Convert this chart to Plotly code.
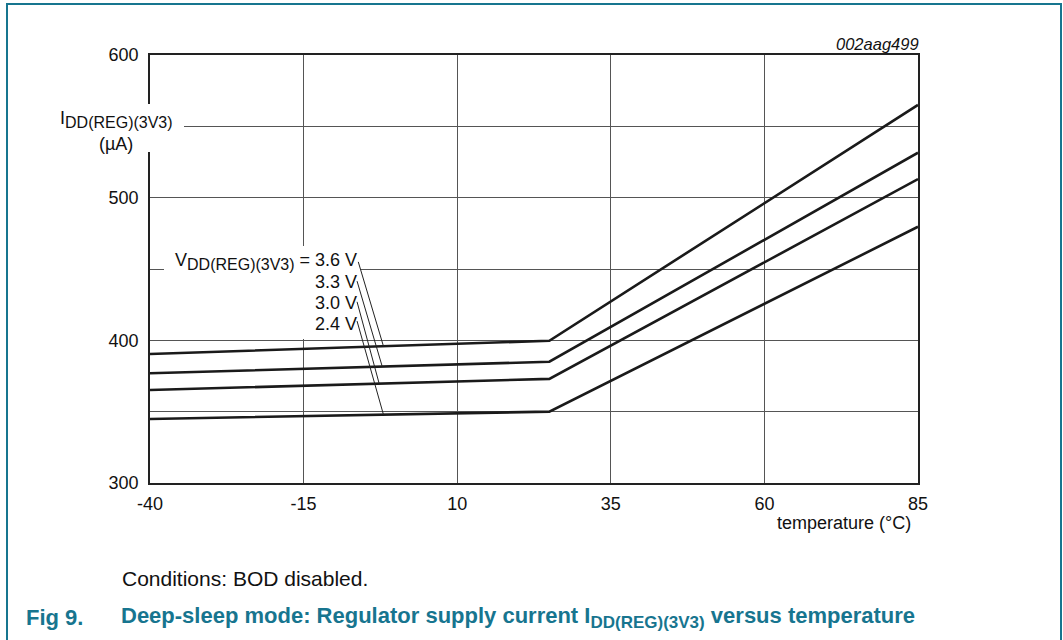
import numpy as np
import plotly.graph_objects as go

# temperature (°C) at start, knee, end of each curve
temps = [-40, 25, 85]
i_36 = [390.4, 399.7, 565]
i_33 = [376.9, 385, 531.5]
i_30 = [365.2, 373, 513]
i_24 = [344.9, 350, 479.6]
curves = [("3.6 V", i_36), ("3.3 V", i_33), ("3.0 V", i_30), ("2.4 V", i_24)]

x_ticks = [-40, -15, 10, 35, 60, 85]
x_labels = ["-40", "-15", "10", "35", "60", "85"]
y_grid = [300, 350, 400, 450, 500, 550, 600]
y_labels = ["300", "", "400", "", "500", "", "600"]

W, H = 1063, 640
L, R, T, B = 150, 918, 55, 483
FONT = "Liberation Sans, Arial, sans-serif"
TEAL = "#17758f"


def px(x):
    return (x - L) / (R - L)


def py(y):
    return (B - y) / (B - T)


def sub(s, size):
    return f'<sub><span style="font-size:{size}px">{s}</span></sub>'


fig = go.Figure()
for name, vals in curves:
    fig.add_trace(go.Scatter(x=temps, y=vals, mode="lines", name=name,
                             line=dict(color="#1a1a1a", width=2.6),
                             showlegend=False, hoverinfo="skip"))

fig.update_layout(
    width=W, height=H,
    margin=dict(l=L, r=W - R, t=T, b=H - B),
    paper_bgcolor="white", plot_bgcolor="white",
    font=dict(family=FONT, size=18, color="#111"),
    xaxis=dict(range=[-40, 85], tickvals=x_ticks, ticktext=x_labels, showgrid=True,
               gridcolor="#555", gridwidth=1, showline=True, linecolor="#222",
               linewidth=1.5, mirror=True, ticks="", zeroline=False,
               tickfont=dict(size=18), ticklabelstandoff=4),
    yaxis=dict(range=[300, 600], tickvals=y_grid, ticktext=y_labels,
               showgrid=True, gridcolor="#555", gridwidth=1, showline=True,
               linecolor="#222", linewidth=1.5, mirror=True, ticks="",
               zeroline=False, tickfont=dict(size=18), ticklabelstandoff=6),
)

shapes = []
# white boxes behind the labels hiding grid lines
shapes.append(dict(type="rect", xref="paper", yref="paper",
                   x0=px(55), x1=px(184), y0=py(152), y1=py(104),
                   fillcolor="white", line=dict(width=0), layer="above"))
shapes.append(dict(type="rect", xref="paper", yref="paper",
                   x0=px(164), x1=px(361), y0=py(339), y1=py(246),
                   fillcolor="white", line=dict(width=0), layer="above"))

# leader lines from labels to curves
leader_start = [(-6.1, 455), (-6.3, 441.5), (-6.3, 427), (-6.3, 413.5)]
leader_end_x = [-2.0, -2.2, -2.7, -2.0]
for (name, vals), (sx, sy), ex in zip(curves, leader_start, leader_end_x):
    ey = float(np.interp(ex, temps, vals))
    shapes.append(dict(type="line", xref="x", yref="y", x0=sx, y0=sy,
                       x1=ex, y1=ey, line=dict(color="#222", width=1),
                       layer="above"))

# outer frame (left, top, right)
shapes.append(dict(type="path", xref="paper", yref="paper",
                   path=f"M {px(7)} {py(660)} L {px(7)} {py(4)} L {px(1061)} {py(4)} L {px(1061)} {py(660)}",
                   line=dict(color=TEAL, width=2)))
fig.update_layout(shapes=shapes)

ann = []


def text(x, y, s, size=18, xanchor="left", **kw):
    ann.append(dict(xref="paper", yref="paper", x=px(x), y=py(y), text=s,
                    showarrow=False, xanchor=xanchor, yanchor="middle",
                    font=dict(family=FONT, size=size, color=kw.pop("color", "#111")), **kw))


text(116, 119, "I" + sub("DD(REG)(3V3)", 16), xanchor="center")
text(116, 144, "(µA)", xanchor="center")
text(359, 261, "V" + sub("DD(REG)(3V3)", 16) + " = 3.6 V", xanchor="right")
text(359, 282, "3.3 V", xanchor="right")
text(359, 303, "3.0 V", xanchor="right")
text(359, 324, "2.4 V", xanchor="right")
text(921, 44, "<i>002aag499</i>", size=16.5, xanchor="right")
text(913, 523, "temperature (°C)", xanchor="right")
text(120, 578, "Conditions: BOD disabled.", size=21)
text(24, 617, "<b>Fig 9.</b>", size=22, color=TEAL)
text(119, 617, "<b>Deep-sleep mode: Regulator supply current I" + sub("DD(REG)(3V3)", 17)
     + " versus temperature</b>", size=22, color=TEAL)
fig.update_layout(annotations=ann)

fig.write_html("out.html", config={"displayModeBar": False},
               post_script="document.body.style.margin='0px';")
